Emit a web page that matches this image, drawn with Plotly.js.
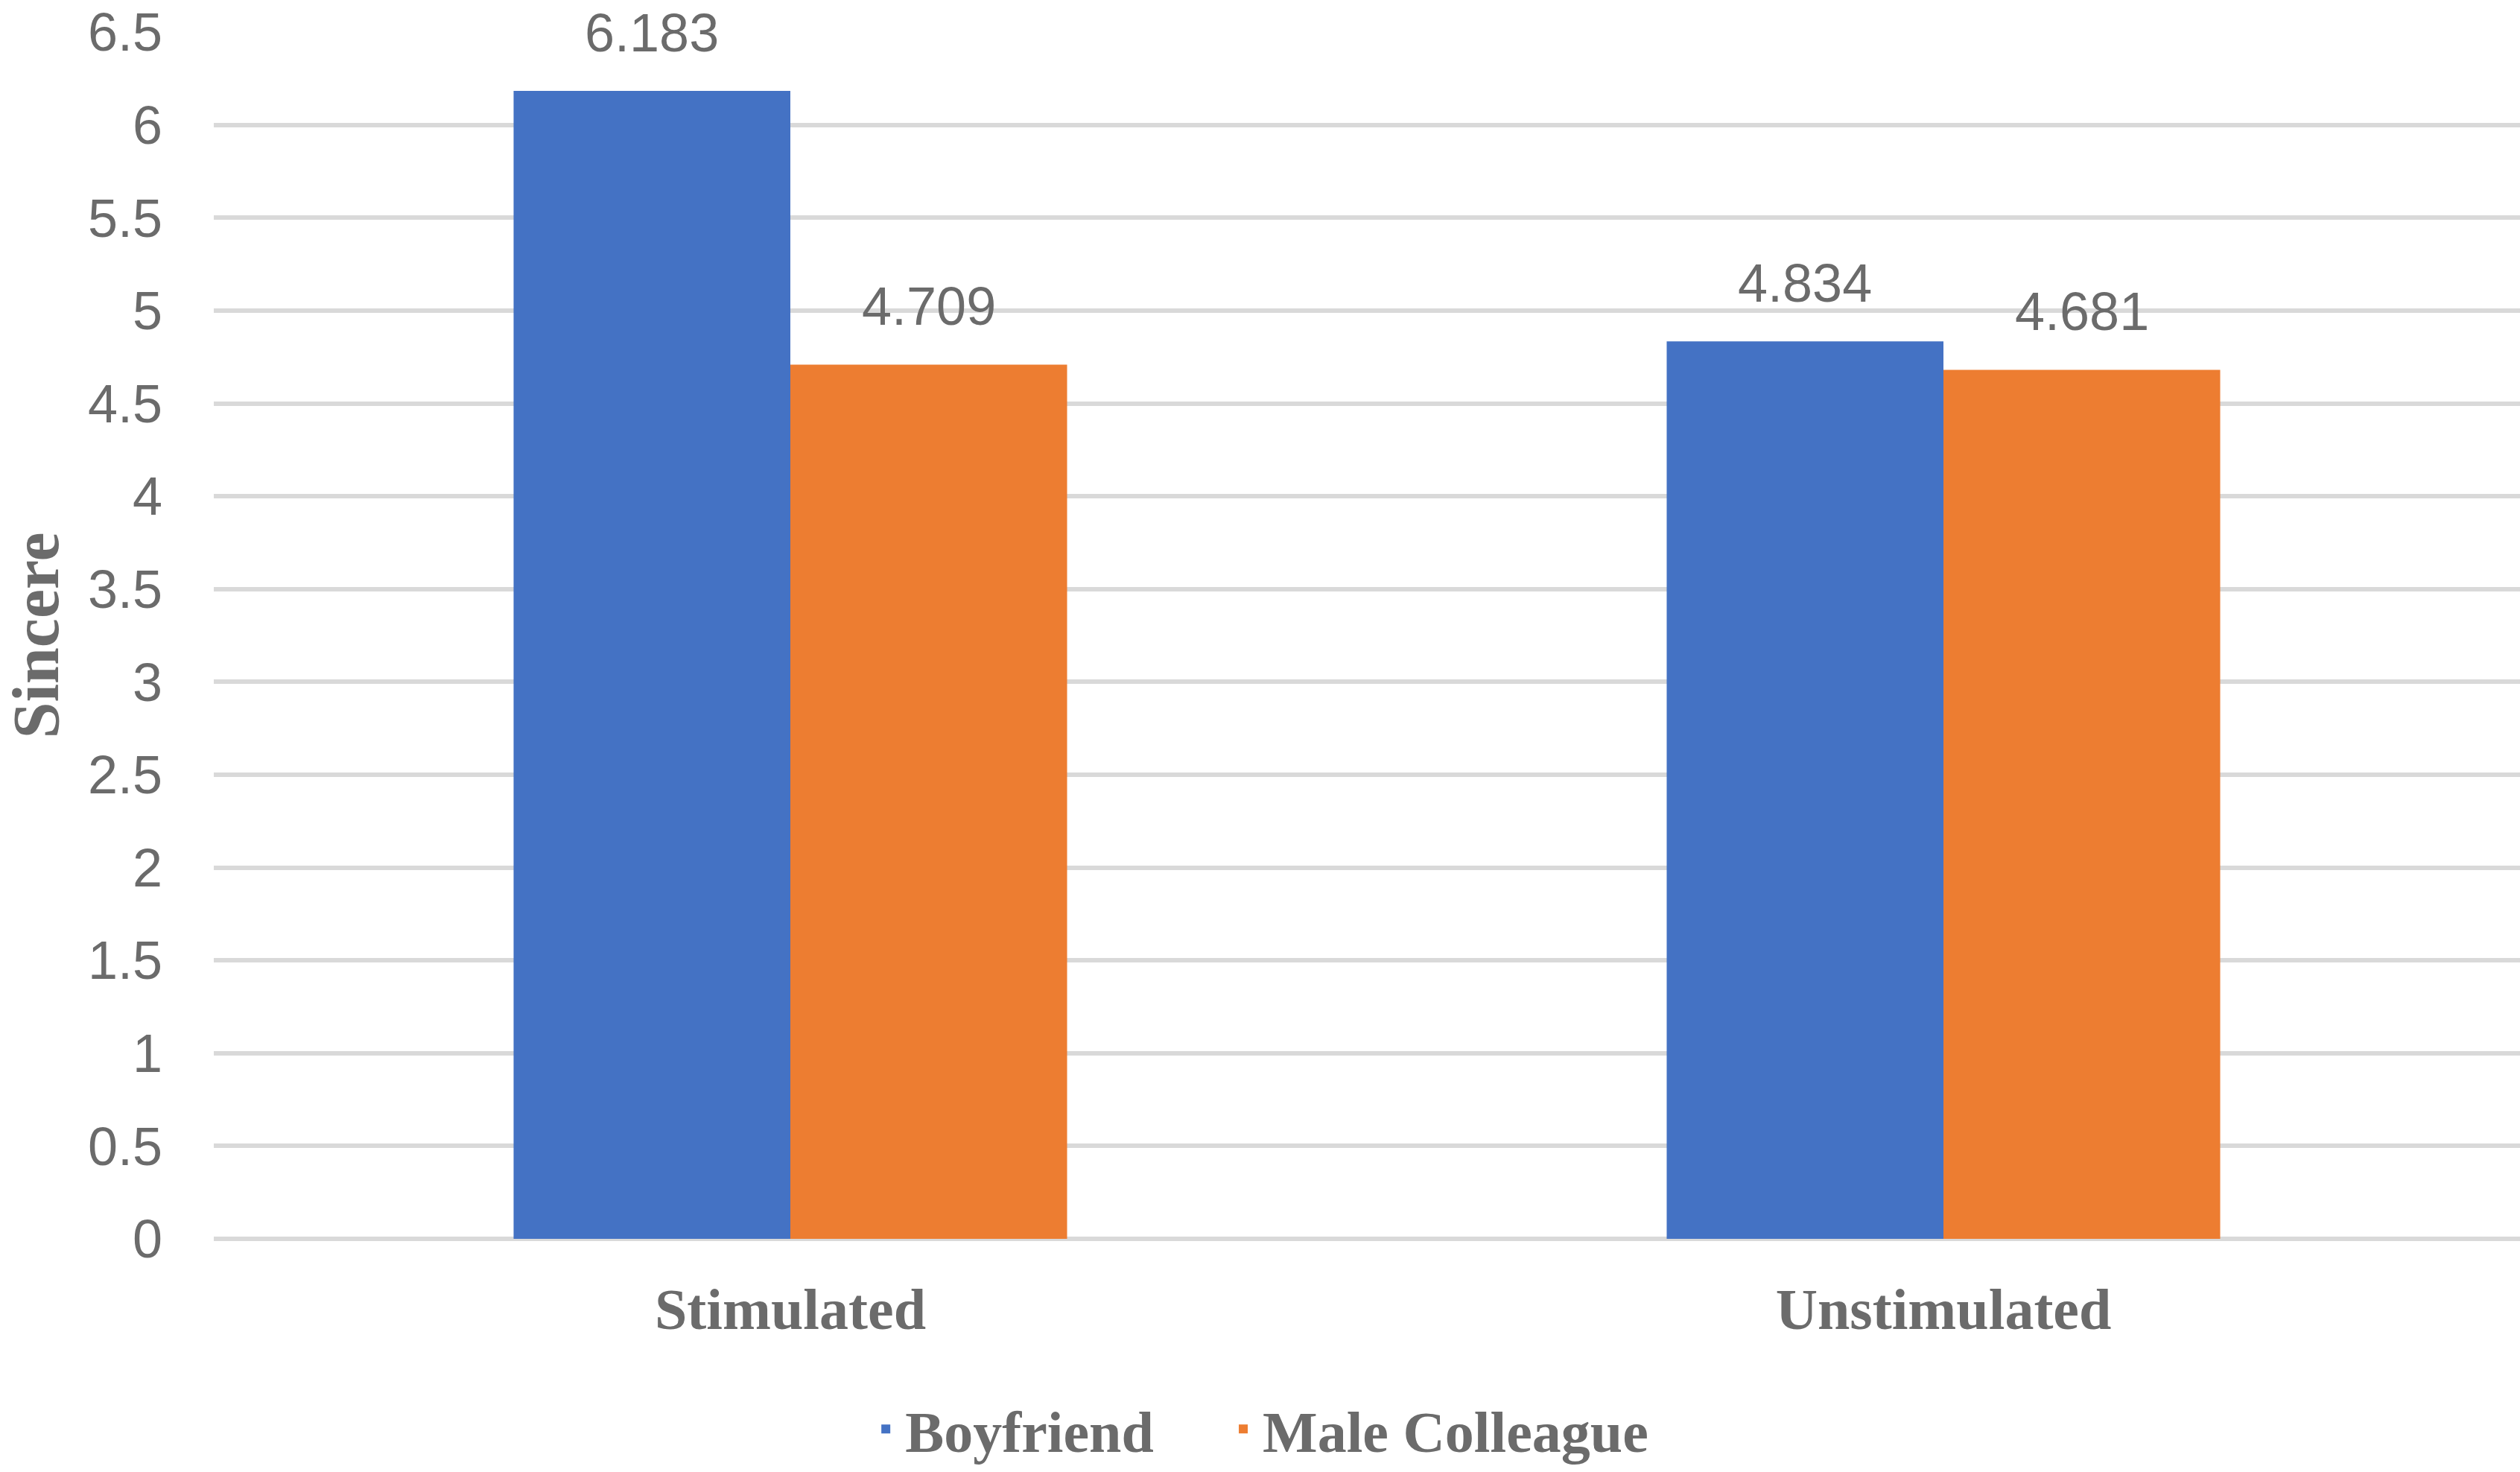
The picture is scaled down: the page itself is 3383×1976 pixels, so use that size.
<!DOCTYPE html>
<html>
<head>
<meta charset="utf-8">
<script src="https://cdn.plot.ly/plotly-3.0.1.min.js"></script>
<style>
	html, body { margin: 0; padding: 0; background: #fff; }
	#chart { width: 3383px; height: 1976px; }
</style>
</head>
<body>
<div id="chart"></div>
<script>
// data
const conditions = ['Stimulated', 'Unstimulated']
const boyfriend = [6.183, 4.834]
const male_colleague = [4.709, 4.681]
const series_names = ['Boyfriend', 'Male Colleague']
const series_colours = ['#4472C4', '#ED7D31']

const num_font = { family: 'Liberation Sans, Arial, sans-serif', size: 72, color: '#6b6b6b' }
const serif_font = { family: 'Liberation Serif, Times New Roman, serif', size: 78, color: '#6b6b6b', weight: 'bold' }
const bargap = 0.52

function drawChart() {
	let all_series = [boyfriend, male_colleague]
	let legend_ids = ['legend', 'legend2']
	let traces = all_series.map((values, s) => ({
		type: 'bar',
		x: conditions,
		y: values,
		name: series_names[s],
		legend: legend_ids[s],
		marker: { color: series_colours[s], line: { width: 0 } },
		hoverinfo: 'skip',
	}))

	// value labels above each bar, offset to the middle of the bar in its group
	let half = (1 - bargap) / 4
	let annotations = []
	all_series.forEach((values, s) => {
		values.forEach((v, i) => {
			annotations.push({
				x: i + (s === 0 ? -half : half),
				y: v,
				xref: 'x',
				yref: 'y',
				text: v.toFixed(3),
				showarrow: false,
				yanchor: 'middle',
				yshift: 78,
				font: num_font,
			})
		})
	})

	let legend_base = {
		orientation: 'h',
		xanchor: 'left',
		y: -0.158,
		yanchor: 'middle',
		font: serif_font,
		itemwidth: 42,
		bgcolor: 'rgba(0,0,0,0)',
	}

	Plotly.newPlot('chart', traces, {
		width: 3383,
		height: 1976,
		margin: { l: 287, r: 0, t: 43, b: 311 },
		paper_bgcolor: '#fff',
		plot_bgcolor: '#fff',
		barmode: 'group',
		bargap: bargap,
		bargroupgap: 0,
		showlegend: true,
		legend: { ...legend_base, x: 0.283 },
		legend2: { ...legend_base, x: 0.438 },
		xaxis: {
			type: 'category',
			range: [-0.5, 1.5],
			showgrid: false,
			zeroline: false,
			showline: false,
			ticks: '',
			tickfont: serif_font,
			ticklabelstandoff: 42,
		},
		yaxis: {
			range: [0, 6.5005],
			tickvals: [0, 0.5, 1, 1.5, 2, 2.5, 3, 3.5, 4, 4.5, 5, 5.5, 6, 6.5],
			showgrid: true,
			gridcolor: '#d9d9d9',
			gridwidth: 6,
			zeroline: true,
			zerolinecolor: '#d9d9d9',
			zerolinewidth: 6,
			showline: false,
			ticks: '',
			tickfont: num_font,
			ticklabelstandoff: 68,
			title: { text: 'Sincere', font: { ...serif_font, size: 88 }, standoff: 84 },
		},
		annotations: annotations,
	}, { staticPlot: true })
}

drawChart()
</script>
</body>
</html>
